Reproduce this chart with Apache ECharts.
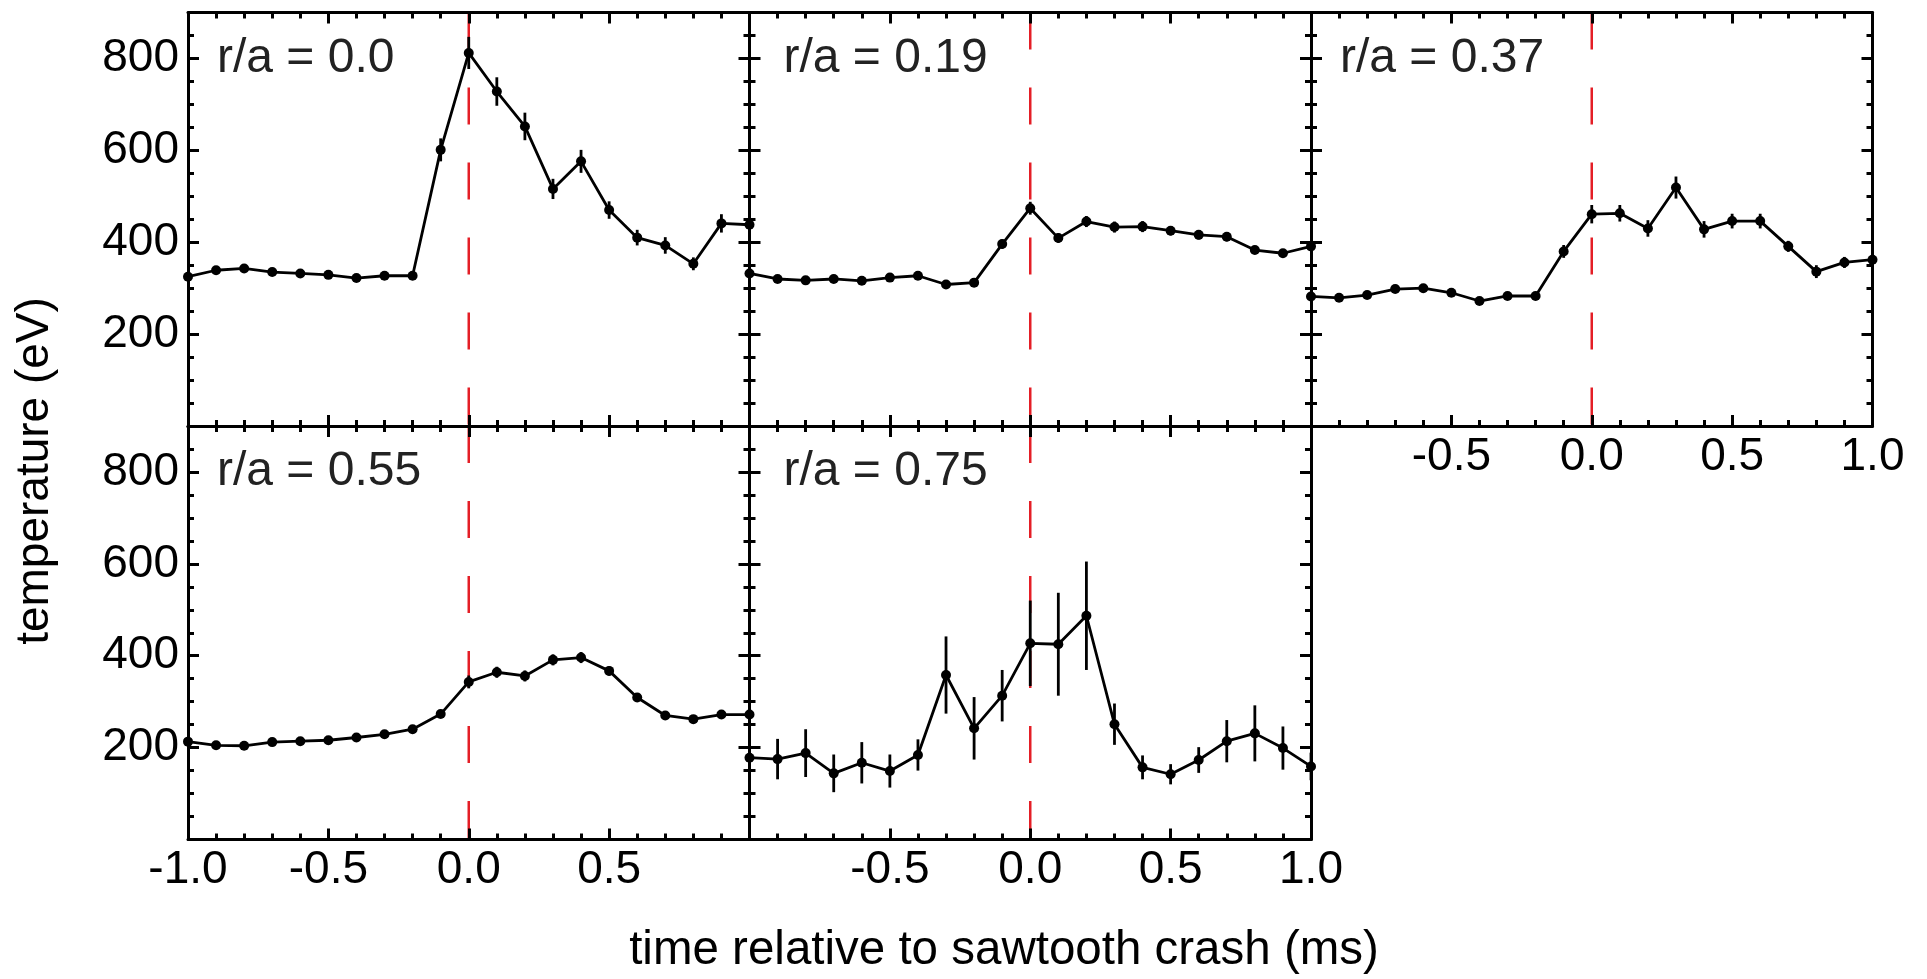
<!DOCTYPE html>
<html>
<head>
<meta charset="utf-8">
<script src="https://cdn.jsdelivr.net/npm/echarts@6/dist/echarts.min.js"></script>
<style>
html,body{margin:0;padding:0;background:#fff;}
#chart{width:1927px;height:979px;}
</style>
</head>
<body>
<div id="chart"></div>
<script>
// ---------------- data ----------------
const times = [-1.0,-0.9,-0.8,-0.7,-0.6,-0.5,-0.4,-0.3,-0.2,-0.1,0.0,0.1,0.2,0.3,0.4,0.5,0.6,0.7,0.8,0.9,1.0];

const panelLabels = ['r/a = 0.0', 'r/a = 0.19', 'r/a = 0.37', 'r/a = 0.55', 'r/a = 0.75'];

const te_r000  = [325,339,343,335,332,329,322,327,327,601,812,728,652,516,576,470,410,393,353,441,438];
const err_r000 = [6,6,6,6,6,6,6,6,6,25,35,31,30,22,25,19,17,18,14,20,10];

const te_r019  = [332,320,317,320,316,323,327,308,312,396,474,409,445,433,434,425,416,412,383,376,391];
const err_r019 = [6,6,6,6,6,6,6,6,6,10,14,10,12,12,12,10,10,10,8,8,8];

const te_r037  = [282,279,285,298,300,290,272,283,283,380,461,463,430,519,428,446,446,391,336,356,362];
const err_r037 = [5,5,5,5,5,5,5,5,5,14,20,18,18,24,18,16,16,12,14,12,8];

const te_r055  = [213,205,204,212,214,216,222,229,240,273,343,364,356,391,396,367,309,270,262,272,272];
const err_r055 = [5,5,5,5,5,5,5,5,5,6,14,12,12,12,12,10,8,6,6,6,6];

const te_r075  = [178,175,188,144,167,149,184,358,242,313,427,425,487,251,157,142,173,214,231,199,159];
const err_r075 = [40,44,52,41,45,36,34,84,68,56,93,112,118,45,26,22,28,46,61,47,30];

const crashTime = 0.0;
const xRange = [-1.0, 1.0];
const yRange = [0, 900];
const yTickLabels = [200, 400, 600, 800];

const xTitle = 'time relative to sawtooth crash (ms)';
const yTitle = 'temperature (eV)';

// ---------------- layout ----------------
const FONT = '"Liberation Sans", Arial, Helvetica, sans-serif';
const colLefts = [188, 749.5, 1311];
const rowTops = [12.5, 426];
const PW = 561.5, PH = 413.5;

const panels = [
  {col:0,row:0,vals:te_r000,errs:err_r000,xLabels:null,yLabels:true,labDx:29},
  {col:1,row:0,vals:te_r019,errs:err_r019,xLabels:null,yLabels:false,labDx:34},
  {col:2,row:0,vals:te_r037,errs:err_r037,xLabels:'hideMin',yLabels:false,labDx:29},
  {col:0,row:1,vals:te_r055,errs:err_r055,xLabels:'hideMax',yLabels:true,labDx:29},
  {col:1,row:1,vals:te_r075,errs:err_r075,xLabels:'hideMin',yLabels:false,labDx:34}
];

const grids = [], xAxes = [], yAxes = [], series = [], graphics = [];
const axisW = 3;
const dataW = 2.8;

panels.forEach((p, i) => {
  const left = colLefts[p.col], top = rowTops[p.row];
  grids.push({left: left, top: top, width: PW, height: PH, show: false, containLabel: false, outerBoundsMode: 'none'});

  const xBase = (pos, labels) => ({
    gridIndex: i, type: 'value', position: pos, min: xRange[0], max: xRange[1], interval: 0.5,
    z: 5,
    axisLine: {show: true, onZero: false, lineStyle: {color: '#000', width: axisW}},
    axisTick: {show: true, inside: true, length: 11, lineStyle: {color: '#000', width: axisW}},
    minorTick: {show: true, splitNumber: 5, length: 6, lineStyle: {color: '#000', width: axisW}},
    splitLine: {show: false}, minorSplitLine: {show: false},
    axisLabel: {
      show: !!labels, margin: 8, fontSize: 46, fontFamily: FONT, color: '#000',
      showMinLabel: true, showMaxLabel: true,
      formatter: (v) => {
        if (labels === 'hideMin' && v <= xRange[0]) return '';
        if (labels === 'hideMax' && v >= xRange[1]) return '';
        return v.toFixed(1);
      }
    }
  });
  xAxes.push(xBase('bottom', p.xLabels));
  xAxes.push(xBase('top', null));

  const yMajor = (pos, labels) => ({
    gridIndex: i, type: 'value', position: pos, min: yRange[0], max: yRange[1], interval: 200,
    z: 5,
    axisLine: {show: true, onZero: false, lineStyle: {color: '#000', width: axisW}},
    axisTick: {show: true, inside: true, length: 11, lineStyle: {color: '#000', width: axisW}},
    splitLine: {show: false},
    axisLabel: {
      show: labels, margin: 9, fontSize: 46, fontFamily: FONT, color: '#000',
      formatter: (v) => yTickLabels.indexOf(v) >= 0 ? String(v) : ''
    }
  });
  const yMinor = (pos) => ({
    gridIndex: i, type: 'value', position: pos, min: yRange[0], max: yRange[1], interval: 50,
    z: 5,
    axisLine: {show: false, onZero: false},
    axisTick: {show: true, inside: true, length: 6, lineStyle: {color: '#000', width: axisW}},
    splitLine: {show: false},
    axisLabel: {show: false}
  });
  const yBase = yAxes.length;
  yAxes.push(yMajor('left', p.yLabels));
  yAxes.push(yMinor('left'));
  yAxes.push(yMajor('right', false));
  yAxes.push(yMinor('right'));

  // red dashed crash line (drawn top to bottom)
  series.push({
    type: 'line', xAxisIndex: 2 * i, yAxisIndex: yBase, silent: true, z: 1,
    data: [[crashTime, yRange[1]], [crashTime, yRange[0]]],
    symbol: 'none',
    lineStyle: {color: '#e41e26', width: 2.5, type: [37, 38]}
  });

  // error bars
  series.push({
    type: 'custom', xAxisIndex: 2 * i, yAxisIndex: yBase, z: 2, silent: true,
    data: times.map((t, k) => [t, p.vals[k] - p.errs[k], p.vals[k] + p.errs[k]]),
    encode: {x: 0, y: [1, 2]},
    renderItem: (params, api) => {
      const a = api.coord([api.value(0), api.value(1)]);
      const b = api.coord([api.value(0), api.value(2)]);
      return {type: 'line', shape: {x1: a[0], y1: a[1], x2: b[0], y2: b[1]},
              style: {stroke: '#000', lineWidth: dataW}};
    }
  });

  // data line
  series.push({
    type: 'line', xAxisIndex: 2 * i, yAxisIndex: yBase, z: 3, clip: false, silent: true,
    data: times.map((t, k) => [t, p.vals[k]]),
    symbol: 'circle', symbolSize: 10,
    itemStyle: {color: '#000'},
    lineStyle: {color: '#000', width: dataW}
  });

  graphics.push({
    type: 'text', left: left + p.labDx, top: top + 22,
    style: {text: panelLabels[i], font: '48px ' + FONT, fill: '#222'}
  });
});

graphics.push({
  type: 'text', x: 1004, y: 951,
  style: {text: xTitle, font: '47.5px ' + FONT, fill: '#000', align: 'center', verticalAlign: 'middle'}
});
graphics.push({
  type: 'text', x: 35, y: 471, rotation: Math.PI / 2,
  style: {text: yTitle, font: '46px ' + FONT, fill: '#000', align: 'center', verticalAlign: 'middle'}
});

const chart = echarts.init(document.getElementById('chart'), null, {renderer: 'canvas'});
chart.setOption({
  animation: false,
  backgroundColor: '#fff',
  grid: grids,
  xAxis: xAxes,
  yAxis: yAxes,
  series: series,
  graphic: graphics
});
</script>
</body>
</html>
